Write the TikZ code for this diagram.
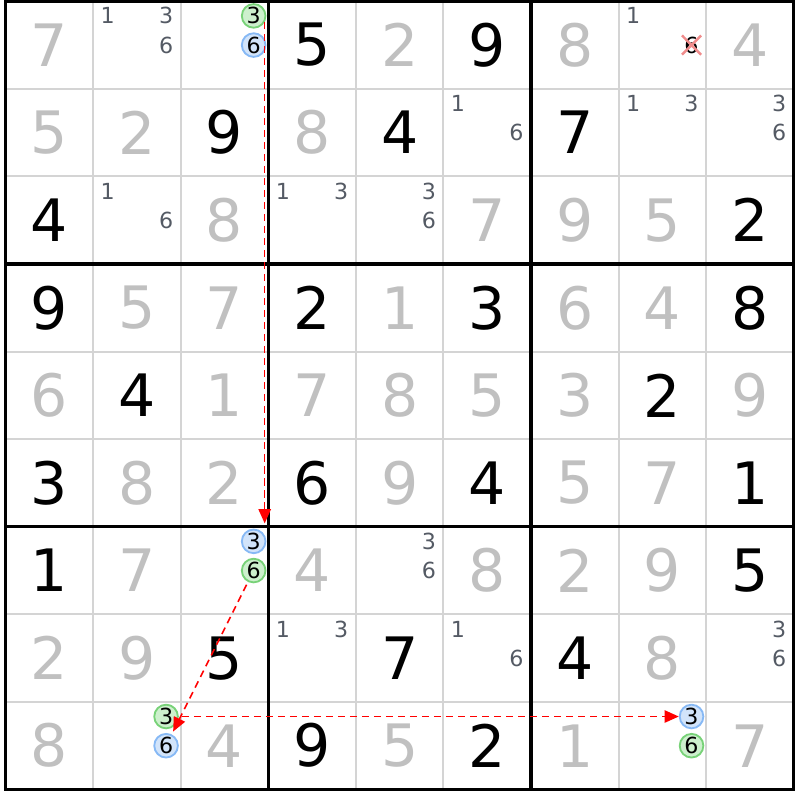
\documentclass[tikz,border=0pt]{standalone}
\usepackage{fontspec}
\setmainfont{DejaVu Sans}
\usetikzlibrary{arrows.meta,shapes.misc}

\definecolor{givengray}{RGB}{192,192,192}
\definecolor{candgray}{RGB}{84,90,100}
\definecolor{linegray}{RGB}{212,212,212}
\definecolor{ongreen}{RGB}{120,210,120}
\definecolor{onfill}{RGB}{205,240,205}
\definecolor{offblue}{RGB}{135,185,245}
\definecolor{offfill}{RGB}{210,228,250}
\definecolor{crosspink}{RGB}{240,140,140}

\tikzset{
  bigdigit/.style={inner sep=0pt, font=\fontsize{19}{20}\selectfont},
  given/.style={bigdigit, text=givengray},
  placed/.style={bigdigit, text=black},
  cand/.style={inner sep=0pt, font=\fontsize{7.2}{8}\selectfont, text=candgray},
  oncand/.style={cand, circle, text=black, draw=ongreen, fill=onfill, line width=0.6pt, minimum size=0.27cm},
  offcand/.style={cand, circle, text=black, draw=offblue, fill=offfill, line width=0.6pt, minimum size=0.27cm},
  link/.style={red, line width=0.5pt, dash pattern=on 2.3pt off 1.6pt, -{Triangle[length=4.6pt,width=4pt]}}
}

\begin{document}
\begin{tikzpicture}[x=1cm,y=-1cm]
  \useasboundingbox (-0.063,-0.015) rectangle (9.054,9.12);

  \foreach \i in {1,2,4,5,7,8} {
    \draw[linegray, line width=0.65pt] (\i,0) -- (\i,9);
    \draw[linegray, line width=0.65pt] (0,\i) -- (9,\i);
  }
  \foreach \i in {3,6} {
    \draw[line width=1pt] (\i,0) -- (\i,9);
    \draw[line width=1pt] (0,\i) -- (9,\i);
  }
  \draw[line width=1pt] (0,0) rectangle (9,9);

  \foreach \row/\col/\d in {1/1/7, 1/5/2, 1/7/8, 1/9/4,
      2/1/5, 2/2/2, 2/4/8,
      3/3/8, 3/6/7, 3/7/9, 3/8/5,
      4/2/5, 4/3/7, 4/5/1, 4/7/6, 4/8/4,
      5/1/6, 5/3/1, 5/4/7, 5/5/8, 5/6/5, 5/7/3, 5/9/9,
      6/2/8, 6/3/2, 6/5/9, 6/7/5, 6/8/7,
      7/2/7, 7/4/4, 7/6/8, 7/7/2, 7/8/9,
      8/1/2, 8/2/9, 8/8/8,
      9/1/8, 9/3/4, 9/5/5, 9/7/1, 9/9/7}
    \node[given] (c\row\col) at (\col-0.5,\row-0.5) {\d};

  \foreach \row/\col/\d in {1/4/5, 1/6/9,
      2/3/9, 2/5/4, 2/7/7,
      3/1/4, 3/9/2,
      4/1/9, 4/4/2, 4/6/3, 4/9/8,
      5/2/4, 5/8/2,
      6/1/3, 6/4/6, 6/6/4, 6/9/1,
      7/1/1, 7/9/5,
      8/3/5, 8/5/7, 8/7/4,
      9/4/9, 9/6/2}
    \node[placed] (c\row\col) at (\col-0.5,\row-0.5) {\d};

  \foreach \row/\col/\k in {1/2/1, 1/2/3, 1/2/6, 1/8/1,
      2/6/1, 2/6/6, 2/8/1, 2/8/3, 2/9/3, 2/9/6,
      3/2/1, 3/2/6, 3/4/1, 3/4/3, 3/5/3, 3/5/6,
      7/5/3, 7/5/6,
      8/4/1, 8/4/3, 8/6/1, 8/6/6, 8/9/3, 8/9/6}
    \node[cand] (c\row\col k\k) at ({\col-0.5+(mod(\k-1,3)-1)/3},{\row-0.5+(div(\k-1,3)-1)/3}) {\k};
  \node[cand, cross out, draw=crosspink, line width=0.8pt, text=black, minimum size=0.19cm] (c18k6) at (7.8333,0.5) {6};

  \node[oncand] (on13) at (2.8333,0.1667) {3};
  \node[offcand] (off13) at (2.8333,0.5) {6};
  \node[offcand] (off73) at (2.8333,6.1667) {3};
  \node[oncand] (on73) at (2.8333,6.5) {6};
  \node[oncand] (on92) at (1.8333,8.1667) {3};
  \node[offcand] (off92) at (1.8333,8.5) {6};
  \node[offcand] (off98) at (7.8333,8.1667) {3};
  \node[oncand] (on98) at (7.8333,8.5) {6};

  \draw[link, shorten >=0.06cm] (on13.-30) -- (on13.-30 |- off73.north);
  \draw[link, shorten <=1pt, shorten >=1pt] (on73) -- (off92);
  \draw[link, shorten <=1pt, shorten >=0pt] (on92) -- (off98);
\end{tikzpicture}
\end{document}
